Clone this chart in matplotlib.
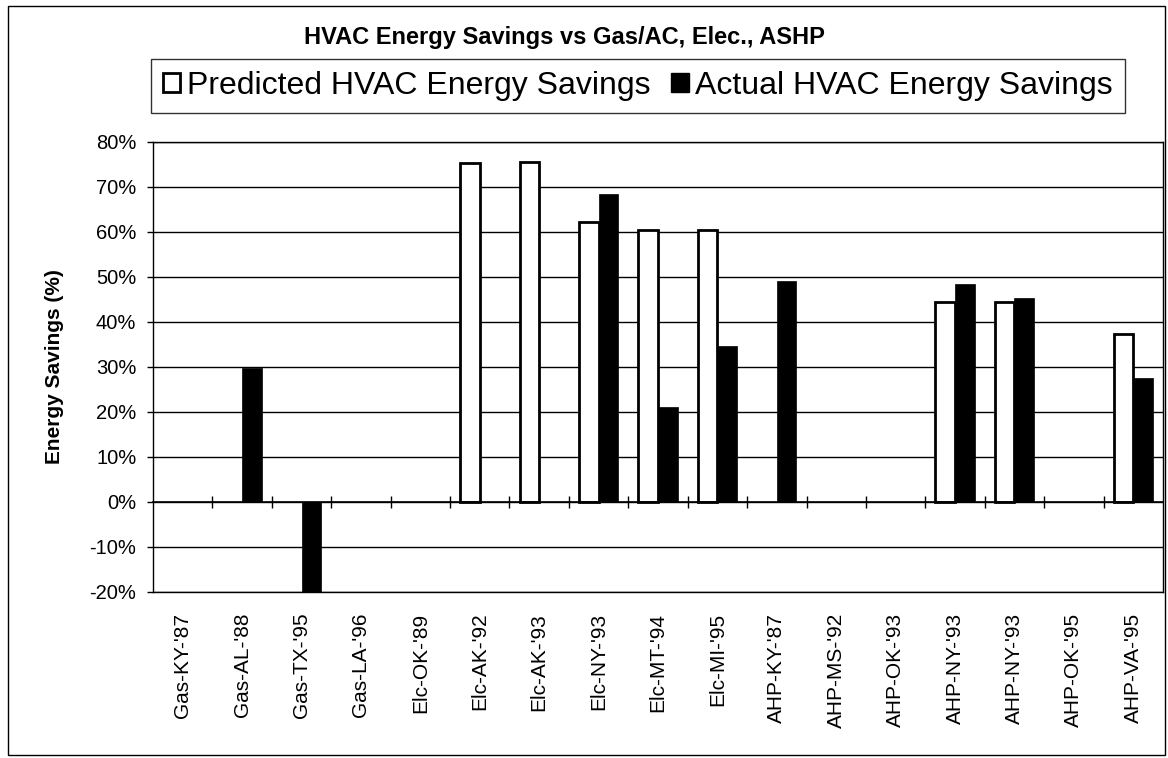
import numpy as np
import matplotlib
matplotlib.use("Agg")
import matplotlib.pyplot as plt
from matplotlib.patches import Patch, Rectangle
from matplotlib.ticker import FuncFormatter

# datos (% de ahorro)
sitios = ["Gas-KY-'87", "Gas-AL-'88", "Gas-TX-'95", "Gas-LA-'96", "Elc-OK-'89",
          "Elc-AK-'92", "Elc-AK-'93", "Elc-NY-'93", "Elc-MT-'94", "Elc-MI-'95",
          "AHP-KY-'87", "AHP-MS-'92", "AHP-OK-'93", "AHP-NY-'93", "AHP-NY-'93",
          "AHP-OK-'95", "AHP-VA-'95"]
ahorro_predicho = [np.nan, np.nan, np.nan, np.nan, np.nan,
                   75.4, 75.5, 62.2, 60.4, 60.4,
                   np.nan, np.nan, np.nan, 44.4, 44.4, np.nan, 37.4]
ahorro_real = [np.nan, 29.8, -20, np.nan, np.nan,
               np.nan, np.nan, 68.4, 21.1, 34.6,
               49.1, np.nan, np.nan, 48.5, 45.4, np.nan, 27.5]
etiquetas_serie = ["Predicted HVAC Energy Savings", "Actual HVAC Energy Savings"]

plt.rcParams['font.family'] = ['Liberation Sans', 'DejaVu Sans']

fig = plt.figure(figsize=(11.68, 7.58), dpi=100)
ax = fig.add_axes([0.131, 0.219, 0.8647, 0.5937])

x = np.arange(len(sitios))
ancho = 0.33

ax.bar(x - ancho / 2, ahorro_predicho, ancho, color='white', edgecolor='black',
       linewidth=2, zorder=3)
ax.bar(x + ancho / 2, ahorro_real, ancho, color='black', edgecolor='black',
       linewidth=0.5, zorder=3)

ax.set_xlim(-0.5, len(sitios) - 0.5)
ax.set_ylim(-20, 80)
ax.set_yticks(np.arange(-20, 81, 10))
ax.yaxis.set_major_formatter(FuncFormatter(lambda v, _: f'{int(v)}%'))
ax.tick_params(axis='y', direction='out', length=4, width=1, pad=8, labelsize=14.5)
ax.yaxis.grid(True, color='black', linewidth=1)
ax.set_axisbelow(True)

ax.set_xticks(x)
ax.set_xticklabels(sitios, rotation=90, fontsize=15, va='top')
ax.tick_params(axis='x', length=0, pad=15)

for lado in ax.spines.values():
    lado.set_color('black')
    lado.set_linewidth(1)

ax.set_ylabel('Energy Savings (%)', fontsize=15, fontweight='bold', labelpad=18)

# eje de categorias cruzando en 0% con marcas entre grupos
ax2 = ax.twiny()
ax2.set_xlim(ax.get_xlim())
ax2.xaxis.set_ticks_position('bottom')
ax2.spines['bottom'].set_position(('data', 0))
for nombre in ['top', 'left', 'right']:
    ax2.spines[nombre].set_visible(False)
ax2.spines['bottom'].set_linewidth(1.2)
ax2.set_xticks(x[:-1] + 0.5)
ax2.set_xticklabels([])
ax2.tick_params(axis='x', direction='inout', length=8, width=1)

fig.text(0.483, 0.951, 'HVAC Energy Savings vs Gas/AC, Elec., ASHP',
         ha='center', va='center', fontsize=17, fontweight='bold')

manijas = [Patch(facecolor='white', edgecolor='black', linewidth=2),
           Patch(facecolor='black', edgecolor='black')]
leyenda = fig.legend(manijas, etiquetas_serie, loc='center', bbox_to_anchor=(0.546, 0.887),
                     ncol=2, fontsize=23, frameon=True, fancybox=False,
                     handlelength=0.55, handleheight=0.55, handletextpad=0.2,
                     columnspacing=0.65, borderpad=0.38, borderaxespad=0)
leyenda.get_frame().set_edgecolor('black')
leyenda.get_frame().set_linewidth(1)

# marco exterior del grafico
fig.patches.append(Rectangle((0.0068, 0.004), 0.991, 0.988, transform=fig.transFigure,
                             fill=False, edgecolor='black', linewidth=1))

fig.savefig('out.png', dpi=100)
